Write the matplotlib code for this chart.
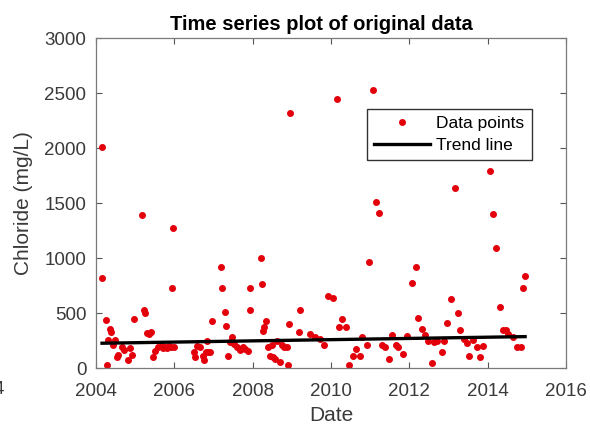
import matplotlib
matplotlib.use("Agg")
from matplotlib import pyplot as plt

plt.rcParams['font.family'] = ['Liberation Sans', 'DejaVu Sans']

# Chloride samples (decimal year, mg/L)
dates = [
    2004.15, 2004.16, 2004.25, 2004.27, 2004.29, 2004.36, 2004.38, 2004.43, 2004.47,
    2004.53, 2004.57, 2004.66, 2004.70, 2004.82, 2004.87, 2004.91, 2004.97,
    2005.18, 2005.23, 2005.26, 2005.31, 2005.36, 2005.40, 2005.45, 2005.51,
    2005.59, 2005.68, 2005.72, 2005.76, 2005.80, 2005.85, 2005.90, 2005.93,
    2005.96, 2005.99,
    2006.49, 2006.53, 2006.58, 2006.66, 2006.72, 2006.76, 2006.80, 2006.84,
    2006.87, 2006.91, 2006.95,
    2007.18, 2007.22, 2007.28, 2007.31, 2007.37, 2007.42, 2007.47, 2007.51,
    2007.60, 2007.68, 2007.75, 2007.81, 2007.87, 2007.92, 2007.94,
    2008.22, 2008.23, 2008.26, 2008.29, 2008.34, 2008.40, 2008.44, 2008.50,
    2008.53, 2008.57, 2008.63, 2008.70, 2008.74, 2008.80, 2008.87, 2008.90,
    2008.92, 2008.94,
    2009.17, 2009.21, 2009.47, 2009.59, 2009.72, 2009.82, 2009.93,
    2010.05, 2010.15, 2010.21, 2010.28, 2010.39, 2010.47, 2010.56, 2010.64,
    2010.73, 2010.80, 2010.92, 2010.98,
    2011.07, 2011.16, 2011.23, 2011.30, 2011.38, 2011.48, 2011.55, 2011.66,
    2011.72, 2011.83, 2011.95,
    2012.07, 2012.16, 2012.23, 2012.32, 2012.41, 2012.49, 2012.58, 2012.63,
    2012.72, 2012.83, 2012.89, 2012.96,
    2013.07, 2013.17, 2013.25, 2013.30, 2013.41, 2013.47, 2013.53, 2013.64,
    2013.72, 2013.81, 2013.89,
    2014.06, 2014.15, 2014.22, 2014.32, 2014.39, 2014.46, 2014.52, 2014.66,
    2014.76, 2014.85, 2014.90, 2014.96,
]
chloride = [
    2007, 823, 441, 29, 256, 356, 325, 211, 256,
    98, 120, 195, 165, 75, 180, 120, 447,
    1389, 529, 505, 316, 311, 325, 105, 159,
    189, 205, 180, 195, 185, 200, 190, 725,
    1271, 195,
    144, 105, 205, 189, 114, 75, 150, 244,
    150, 144, 432,
    916, 732, 507, 380, 107, 235, 280, 220,
    189, 165, 189, 175, 159, 529, 725,
    1002, 765, 341, 371, 425, 189, 114, 214,
    105, 84, 250, 59, 214, 189, 195, 29,
    401, 2317,
    325, 532, 311, 280, 265, 214, 659,
    638, 2447, 377, 447, 377, 32, 114, 175,
    107, 286, 214, 968,
    2525, 1507, 1407, 214, 195, 84, 305, 214,
    189, 129, 295,
    775, 923, 456, 356, 305, 244, 47, 235,
    244, 144, 250, 407,
    629, 1638, 498, 347, 265, 225, 114, 256,
    189, 98, 205,
    1795, 1402, 1093, 559, 347, 347, 311, 280,
    189, 189, 729, 841,
]

# trend line end points
trend_x = [2004.15, 2014.96]
trend_y = [226, 286]

txt = '#3a3a3a'

fig = plt.figure(figsize=(5.9, 4.28), dpi=100)
ax = fig.add_axes([0.163, 0.140, 0.796, 0.771])

ax.plot(dates, chloride, '.', color='#e3000b', markersize=8, label='Data points')
ax.plot(trend_x, trend_y, color='black', linewidth=2.4, label='Trend line')

ax.set_xlim(2004, 2016)
ax.set_ylim(0, 3000)
ax.set_xticks(range(2004, 2017, 2))
ax.set_yticks(range(0, 3001, 500))

ax.set_title('Time series plot of original data', fontsize=14.5, fontweight='bold',
             pad=6, color='black', x=0.48)
ax.set_xlabel('Date', fontsize=15, labelpad=4, color=txt)
ax.set_ylabel('Chloride (mg/L)', fontsize=15, labelpad=8, color=txt)

ax.tick_params(axis='both', direction='in', length=4, labelsize=13.5,
               top=True, right=True, colors='#555555', labelcolor=txt)
ax.tick_params(axis='x', pad=11)
ax.tick_params(axis='y', pad=7)
for s in ax.spines.values():
    s.set_color('#7a7a7a')
    s.set_linewidth(0.9)

ax.legend(loc='upper right', bbox_to_anchor=(0.927, 0.785), fontsize=12.5,
          frameon=True, fancybox=False, edgecolor='#333333', framealpha=1,
          handlelength=3.2, borderpad=0.4, labelspacing=0.4, handletextpad=0.4,
          borderaxespad=0)

# stray character cut off at the left edge of the original screenshot
fig.text(4 / 590, 1 - 390 / 428, '4', fontsize=13.5, color=txt, ha='right', va='center')

fig.savefig('out.png', dpi=100)
